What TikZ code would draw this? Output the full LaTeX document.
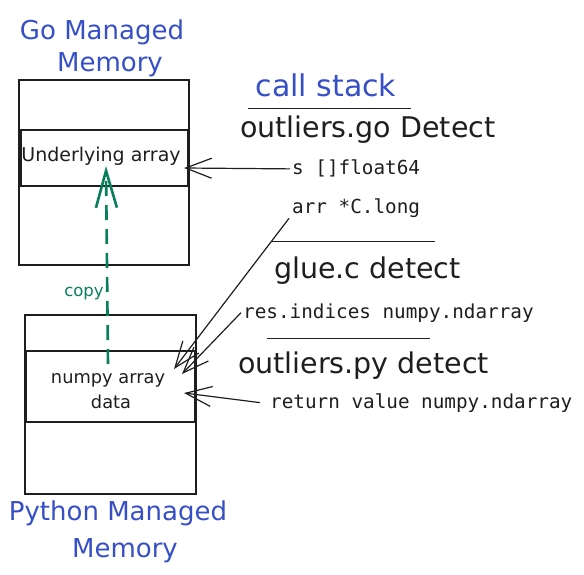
\documentclass[tikz,border=0pt]{standalone}
\usepackage{fontspec}
\setmainfont{DejaVu Sans}
\newfontfamily\codefont{DejaVu Sans Mono}
\usetikzlibrary{arrows.meta}
\definecolor{inkblack}{RGB}{30,30,30}
\definecolor{inkblue}{RGB}{54,79,199}
\definecolor{inkgreen}{RGB}{8,127,91}
\tikzset{
    title/.style={inner sep=0pt, anchor=base, text=inkblue, font=\fontsize{26}{28}\selectfont},
    frame/.style={draw=inkblack, line width=1.6pt},
    stackline/.style={inkblack, line width=1pt},
    func/.style={inner sep=0pt, anchor=base west, text=inkblack, font=\fontsize{28.5}{30}\selectfont},
    arg/.style={inner sep=0pt, anchor=base west, text=inkblack, font=\codefont\fontsize{19.3}{21}\selectfont},
    memtext/.style={inner sep=0pt, anchor=base, text=inkblack, font=\fontsize{17.8}{19}\selectfont},
    pointer/.style={inkblack, line width=1.2pt, -{Straight Barb[length=26pt,width=20pt]}},
    copyarrow/.style={inkgreen, line width=2.6pt, dash pattern=on 15pt off 9pt, -{Straight Barb[length=37pt,width=21pt]}}
}
\begin{document}
\begin{tikzpicture}[x=1pt,y=-1pt]
        \useasboundingbox (0,0) rectangle (584,575);
        % go side
        \node[title] (gotitle) at (102,40) {Go Managed};
        \node[title] (gotitle2) at (110,72) {Memory};
        \draw[frame] (19,80) rectangle (189,265);
        \draw[frame] (21,130) rectangle (188,186);
        \node[memtext, font=\fontsize{19}{21}\selectfont] (underlying) at (101,162) {Underlying array};
        \coordinate (underlying tip) at (184,168);
        \coordinate (copy end) at (106,166);

        % python side
        \draw[frame] (25,315) rectangle (196,494);
        \draw[frame] (26,351) rectangle (195,422);
        \node[memtext] (numpy) at (108,383) {numpy array};
        \node[memtext] (numpy2) at (111,408) {data};
        \node[title] (pytitle) at (118,520) {Python Managed};
        \node[title] (pytitle2) at (125,557) {Memory};
        \coordinate (numpy tip a) at (174,369);
        \coordinate (numpy tip b) at (182,374);
        \coordinate (numpy tip c) at (184,393);
        \coordinate (copy start) at (108,364);

        % copy
        \draw[copyarrow] (copy start) -- (copy end);
        \node[inner sep=0pt, anchor=base, text=inkgreen, font=\fontsize{16.5}{18}\selectfont] (copy) at (84,296) {copy};

        % call stack
        \node[title, font=\fontsize{30}{32}\selectfont] (callstack) at (326,97) {call stack};
        \draw[stackline] (248,109) -- (411,109);
        \node[func] (godetect) at (240,138) {outliers.go Detect};
        \node[arg] (s) at (292,175) {s []float64};
        \node[arg] (arr) at (292,214) {arr *C.long};
        \draw[stackline] (272,241) -- (435,241);
        \node[func] (gluedetect) at (274,278) {glue.c detect};
        \node[arg] (res) at (243,318) {res.indices numpy.ndarray};
        \draw[stackline] (267,338) -- (430,338);
        \node[func] (pydetect) at (238,373) {outliers.py detect};
        \node[arg] (ret) at (270,408) {return value numpy.ndarray};

        % pointers
        \draw[pointer] ([xshift=-2pt]s.west) -- (underlying tip);
        \draw[pointer] ([xshift=-3pt]arr.south west) -- (numpy tip a);
        \draw[pointer] ([xshift=-2pt]res.west) -- (numpy tip b);
        \draw[pointer] ([xshift=-10pt]ret.west) -- (numpy tip c);
\end{tikzpicture}
\end{document}
